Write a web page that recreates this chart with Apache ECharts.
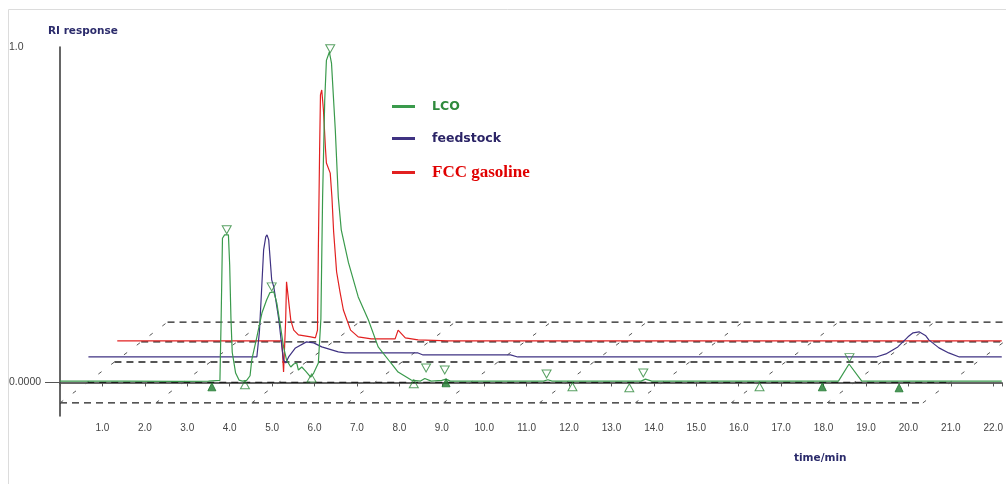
<!DOCTYPE html>
<html>
<head>
<meta charset="utf-8">
<script src="https://cdn.jsdelivr.net/npm/echarts@6/dist/echarts.min.js"></script>
<style>
html,body{margin:0;padding:0;background:#fff;}
#chart{width:1006px;height:484px;}
</style>
</head>
<body>
<div id="chart"></div>
<script>
// ---- data (time/min, RI response) ----
const xTickLabels = ['1.0','2.0','3.0','4.0','5.0','6.0','7.0','8.0','9.0','10.0','11.0','12.0','13.0','14.0','15.0','16.0','17.0','18.0','19.0','20.0','21.0','22.0'];
const yTickValues = [0, 1.0];
const yTickLabels = ['0.0000', '1.0'];
const seriesNames = ['LCO', 'feedstock', 'FCC gasoline'];

const lco = [[0,0.004],[1.5,0.004],[2.8,0.003],[3.5,0.004],[3.77,0.006],[3.80,0.2],[3.83,0.43],[3.88,0.44],[3.97,0.44],[4.0,0.35],[4.03,0.19],[4.06,0.09],[4.14,0.028],[4.22,0.007],[4.3,0.004],[4.4,0.006],[4.48,0.02],[4.52,0.067],[4.64,0.135],[4.76,0.207],[4.87,0.246],[4.95,0.268],[5.04,0.27],[5.11,0.237],[5.2,0.165],[5.27,0.106],[5.34,0.067],[5.44,0.046],[5.51,0.055],[5.58,0.058],[5.62,0.037],[5.7,0.046],[5.79,0.034],[5.91,0.016],[5.98,0.028],[6.09,0.058],[6.15,0.19],[6.19,0.55],[6.24,0.84],[6.28,0.96],[6.35,0.985],[6.40,0.952],[6.49,0.752],[6.56,0.553],[6.63,0.455],[6.80,0.357],[7.03,0.255],[7.27,0.186],[7.50,0.106],[7.80,0.058],[7.97,0.031],[8.28,0.007],[8.5,0.004],[8.6,0.012],[8.75,0.004],[9.0,0.006],[9.1,0.01],[9.2,0.004],[11.4,0.004],[11.5,0.008],[11.6,0.004],[13.7,0.004],[13.8,0.01],[13.95,0.004],[18.35,0.004],[18.6,0.055],[18.9,0.004],[22.2,0.004]];

const feedstock = [[0.67,0.076],[2.5,0.076],[4.64,0.076],[4.70,0.15],[4.74,0.246],[4.80,0.395],[4.85,0.434],[4.88,0.44],[4.92,0.425],[4.99,0.306],[5.04,0.285],[5.16,0.186],[5.23,0.106],[5.27,0.067],[5.32,0.058],[5.39,0.076],[5.55,0.103],[5.81,0.121],[5.98,0.118],[6.17,0.106],[6.56,0.091],[6.73,0.088],[8.44,0.088],[8.56,0.082],[10.62,0.082],[10.79,0.076],[19.24,0.076],[19.47,0.085],[19.75,0.106],[19.99,0.136],[20.11,0.148],[20.25,0.151],[20.41,0.139],[20.48,0.127],[20.72,0.103],[20.95,0.088],[21.2,0.076],[22.2,0.076]];

const fccGasoline = [[1.35,0.124],[3.5,0.124],[5.23,0.124],[5.25,0.121],[5.27,0.031],[5.30,0.031],[5.32,0.186],[5.34,0.30],[5.37,0.297],[5.44,0.186],[5.51,0.156],[5.62,0.142],[5.91,0.136],[6.02,0.133],[6.07,0.156],[6.09,0.395],[6.12,0.693],[6.14,0.857],[6.17,0.872],[6.21,0.812],[6.26,0.693],[6.28,0.654],[6.37,0.624],[6.41,0.553],[6.45,0.45],[6.52,0.33],[6.6,0.27],[6.68,0.216],[6.85,0.156],[7.03,0.136],[7.34,0.13],[7.90,0.13],[7.97,0.156],[8.01,0.151],[8.14,0.133],[8.44,0.127],[9.15,0.124],[22.2,0.124]];

// peak markers of the LCO trace
const apexMarks = [[3.93,0.455],[4.99,0.285],[6.37,0.995],[8.63,0.043],[9.07,0.037],[11.47,0.025],[13.75,0.028],[18.61,0.074]];
const boundMarks = [[4.36,-0.007],[5.93,0.013],[8.34,-0.004],[12.08,-0.013],[13.42,-0.016],[16.49,-0.013]];
const baseMarks = [[3.58,-0.013],[9.10,-0.001],[17.97,-0.013],[19.78,-0.016]];

// pseudo-3D floor (dashed) in axis units
const floorLevels = [-0.061, 0, 0.061, 0.121, 0.18];
const floorDiagStarts = [0, 2.26, 4.52, 6.78, 9.04, 11.30, 13.56, 15.82, 18.08, 20.34];
const floorRun = 2.535;      // time shift from bottom to top edge
const floorLength = 20.34;   // time length of each level line

// ---- chart ----
const C_LCO = '#3a9a4c', C_FEED = '#3f3282', C_FCC = '#e22020';
const floorSeries = [];
const bottom = floorLevels[0], topLvl = floorLevels[floorLevels.length - 1];
floorLevels.forEach(lv => {
  const s = (lv - bottom) / (topLvl - bottom) * floorRun;
  floorSeries.push({type:'line', silent:true, symbol:'none', z:1,
    lineStyle:{color:'#1e1e1e', width:1.3, type:[7,5]},
    data:[[s, lv],[s + floorLength, lv]]});
});
floorDiagStarts.forEach(t0 => {
  floorSeries.push({type:'line', silent:true, symbol:'none', z:1,
    lineStyle:{color:'#555', width:1, type:[4,12]},
    data:[[t0, bottom],[t0 + floorRun, topLvl]]});
});

const chart = echarts.init(document.getElementById('chart'), null, {renderer:'canvas'});
chart.setOption({
  animation:false,
  backgroundColor:'#fff',
  title:[
    {text:'RI response', left:43, top:21, textStyle:{fontFamily:'DejaVu Sans', fontWeight:'bold', fontSize:10.5, color:'#2b2b6b'}},
    {text:'time/min', left:789, top:448, textStyle:{fontFamily:'DejaVu Sans', fontWeight:'bold', fontSize:10.5, color:'#2b2b6b'}}
  ],
  legend:{
    orient:'vertical', left:387, top:95, itemGap:19, itemWidth:23, itemHeight:3,
    icon:'rect',
    data:[
      {name:seriesNames[0], textStyle:{color:'#2f8a3c', fontFamily:'DejaVu Sans', fontWeight:'bold', fontSize:12.5}},
      {name:seriesNames[1], textStyle:{color:'#2b2466', fontFamily:'DejaVu Sans', fontWeight:'bold', fontSize:12.5}},
      {name:seriesNames[2], textStyle:{color:'#e00000', fontFamily:'Liberation Serif', fontWeight:'bold', fontSize:17}}
    ],
    textStyle:{padding:[0,0,0,12]}
  },
  graphic:[{type:'rect', shape:{x:8.5, y:9.5, width:1200, height:600}, style:{fill:'none', stroke:'#dcdcdc', lineWidth:1}, silent:true}],
  grid:{left:60, right:0, top:47, bottom:68},
  xAxis:{
    type:'value', min:0, max:22.2, interval:1,
    axisLine:{lineStyle:{color:'#333', width:1.5}},
    axisTick:{show:true, length:4, lineStyle:{color:'#555'}},
    splitLine:{show:false},
    axisLabel:{margin:7, fontFamily:'Liberation Sans', fontSize:10, color:'#444',
      formatter:(v)=>{const i=Math.round(v); return (Math.abs(v-i)<1e-6 && i>=1 && i<=xTickLabels.length) ? xTickLabels[i-1] : '';}}
  },
  yAxis:{
    type:'value', min:-0.1, max:1.0,
    axisLine:{show:true, lineStyle:{color:'#333', width:1.5}},
    axisTick:{show:true, customValues:[0], length:15, lineStyle:{color:'#555'}},
    splitLine:{show:false},
    axisLabel:{customValues:yTickValues, margin:51, align:'left', fontFamily:'Liberation Sans', fontSize:10.5, color:'#444',
      formatter:(v)=>{const k=yTickValues.findIndex(x=>Math.abs(x-v)<1e-6); return k>=0?yTickLabels[k]:'';}}
  },
  series:[
    ...floorSeries,
    {name:seriesNames[2], type:'line', data:fccGasoline, symbol:'none', z:3, lineStyle:{color:C_FCC, width:1.2}, itemStyle:{color:C_FCC}},
    {name:seriesNames[1], type:'line', data:feedstock, symbol:'none', z:3, lineStyle:{color:C_FEED, width:1.2}, itemStyle:{color:C_FEED}},
    {name:seriesNames[0], type:'line', data:lco, symbol:'none', z:4, lineStyle:{color:C_LCO, width:1.2}, itemStyle:{color:C_LCO}},
    {type:'scatter', data:apexMarks, symbol:'triangle', symbolRotate:180, symbolSize:[9,8], z:5, silent:true,
      itemStyle:{color:'rgba(255,255,255,0)', borderColor:'#2f8a3c', borderWidth:1}},
    {type:'scatter', data:boundMarks, symbol:'triangle', symbolSize:[9,8], z:5, silent:true,
      itemStyle:{color:'rgba(255,255,255,0)', borderColor:'#2f8a3c', borderWidth:1}},
    {type:'scatter', data:baseMarks, symbol:'triangle', symbolSize:[8,8], z:5, silent:true,
      itemStyle:{color:'#1f7a30', borderColor:'#1f7a30', borderWidth:1}}
  ]
});
</script>
</body>
</html>
